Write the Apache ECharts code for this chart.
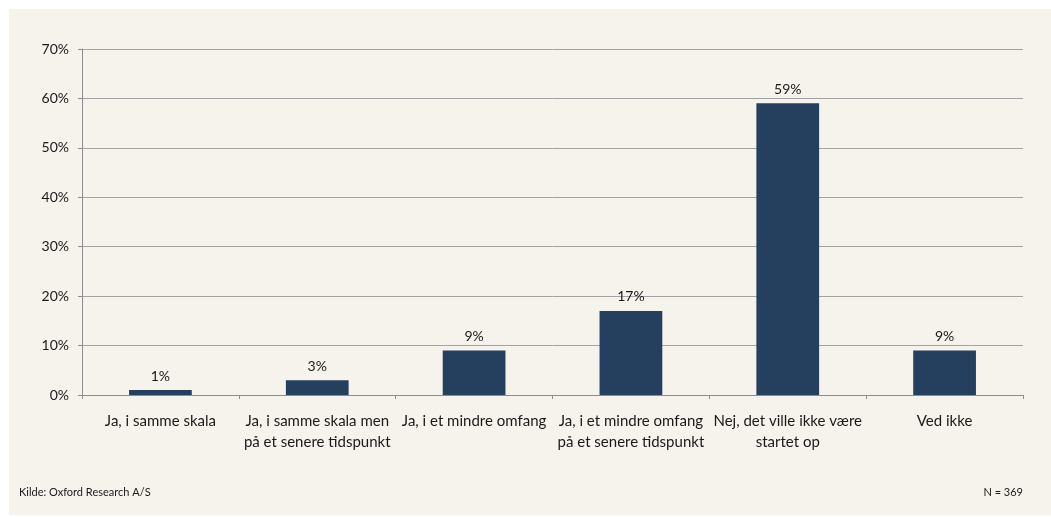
<!DOCTYPE html>
<html>
<head>
<meta charset="utf-8">
<script src="https://cdn.jsdelivr.net/npm/echarts@6/dist/echarts.min.js"></script>
<style>
  html, body { margin: 0; padding: 0; background: #ffffff; }
  #panel { position: absolute; left: 9px; top: 9px; width: 1042px; height: 506px; background: #f6f2ec; }
  #chart { position: absolute; left: 0; top: 0; width: 1051px; height: 517px; }
</style>
</head>
<body>
<div id="panel"></div>
<div id="chart"></div>
<script>
// Answers to the question, in display order
const categories = [
  'Ja, i samme skala',
  'Ja, i samme skala men\npå et senere tidspunkt',
  'Ja, i et mindre omfang',
  'Ja, i et mindre omfang\npå et senere tidspunkt',
  'Nej, det ville ikke være\nstartet op',
  'Ved ikke'
];
// Share of respondents, percent
const shares = [1, 3, 9, 17, 59, 9];
const sourceText = 'Kilde: Oxford Research A/S';
const sampleText = 'N = 369';

const FONT = 'Lato, "Open Sans", sans-serif';
const chart = echarts.init(document.getElementById('chart'), null, { renderer: 'canvas' });

chart.setOption({
  backgroundColor: 'transparent',
  animation: false,
  textStyle: { fontFamily: FONT, color: '#1a1a1a' },
  grid: { left: 82, right: 28, top: 49, bottom: 122, containLabel: false },
  xAxis: {
    type: 'category',
    data: categories,
    axisLine: { lineStyle: { color: '#8c8c8c', width: 1 } },
    axisTick: { show: true, alignWithLabel: false, length: 4, lineStyle: { color: '#8c8c8c' } },
    axisLabel: {
      interval: 0, margin: 16, fontSize: 15, lineHeight: 21,
      color: '#1a1a1a', fontFamily: FONT
    }
  },
  yAxis: {
    type: 'value',
    min: 0, max: 70, interval: 10,
    axisLine: { show: true, lineStyle: { color: '#8c8c8c', width: 1 } },
    axisTick: { show: true, length: 4, lineStyle: { color: '#8c8c8c' } },
    axisLabel: {
      formatter: v => v + '%', fontSize: 14, margin: 13,
      color: '#1a1a1a', fontFamily: FONT
    },
    splitLine: { show: true, lineStyle: { color: '#a3a3a3', width: 1 } }
  },
  series: [{
    type: 'bar',
    data: shares,
    barWidth: '40%',
    itemStyle: { color: '#253f5f' },
    label: {
      show: true, position: 'top', distance: 7,
      formatter: p => p.value + '%',
      fontSize: 14, color: '#1a1a1a', fontFamily: FONT
    }
  }],
  graphic: [
    {
      type: 'text', left: 19, top: 487,
      style: { text: sourceText, fontSize: 11, fill: '#1a1a1a', fontFamily: FONT }
    },
    {
      type: 'text', right: 28, top: 487,
      style: { text: sampleText, fontSize: 11, fill: '#1a1a1a', fontFamily: FONT }
    }
  ]
});
</script>
</body>
</html>
